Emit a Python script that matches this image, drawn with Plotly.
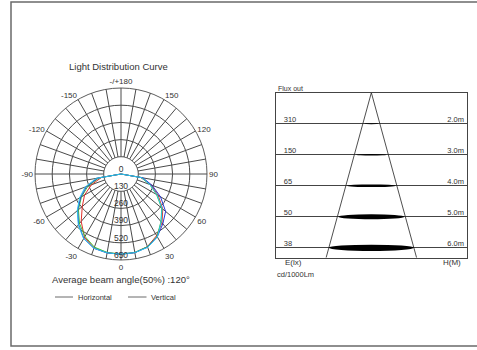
import plotly.graph_objects as go

# ---------------- data ----------------
angles = [-90, -80, -70, -60, -50, -40, -30, -20, -10, 0, 10, 20, 30, 40, 50, 60, 70, 80, 90]
cyan_cd = [0, 190, 288, 362, 432, 502, 565, 597, 605, 606, 603, 590, 550, 472, 405, 315, 232, 160, 0]
blue_cd = [0, 178, 278, 352, 428, 498, 562, 598, 606, 606, 604, 588, 548, 492, 440, 345, 250, 168, 0]
red_cd = [0, 150, 238, 318, 382, 468, 552, 594, 604, 606, 603, 584, 538, 482, 412, 325, 242, 152, 0]
green_cd = [0, 168, 265, 345, 420, 488, 545, 588, 602, 606, 602, 584, 545, 470, 402, 310, 232, 155, 0]
radial_ticks = [0, 130, 260, 390, 520, 650]
angle_ticks = list(range(0, 360, 10))
angle_labels = {0: "0", 30: "30", 60: "60", 90: "90", 120: "120", 150: "150", 180: "-/+180",
                210: "-150", 240: "-120", 270: "-90", 300: "-60", 330: "-30"}

heights = [2, 3, 4, 5, 6]
flux = [310, 150, 65, 50, 38]
spot_halfwidth = [0.82, 1.82, 2.88, 3.88, 5.0]
spot_thickness = [0.035, 0.05, 0.08, 0.16, 0.2]
cone_x = [-5.32, 0, 5.32]
cone_y = [6.32, 1, 6.32]

FONT = "Liberation Sans, Arial, sans-serif"
GRID = "#4a4a4a"
TXT = "#333333"

fig = go.Figure()

# white inner disk (spokes start at the first ring)
disk_theta = list(range(0, 370, 10))
fig.add_trace(go.Scatterpolar(r=[radial_ticks[1]] * len(disk_theta), theta=disk_theta,
                              mode="lines", fill="toself", fillcolor="white",
                              line=dict(color=GRID, width=0.7), hoverinfo="skip", showlegend=False))

for vals, col in [(red_cd, "#e2302a"), (green_cd, "#3cc43c"), (blue_cd, "#2a3ad2"), (cyan_cd, "#2ac8e8")]:
    fig.add_trace(go.Scatterpolar(r=vals, theta=angles, mode="lines",
                                  line=dict(color=col, width=1), showlegend=False, hoverinfo="skip"))

fig.add_trace(go.Scatterpolar(r=radial_ticks, theta=[0] * len(radial_ticks), mode="text",
                              text=[str(v) for v in radial_ticks], textposition="top center",
                              textfont=dict(family=FONT, size=8.5, color=TXT),
                              showlegend=False, hoverinfo="skip"))

# ---------------- right diagram ----------------
fig.add_trace(go.Scatter(x=cone_x, y=cone_y, mode="lines", line=dict(color="#222", width=0.8),
                         xaxis="x", yaxis="y", showlegend=False, hoverinfo="skip"))
fig.add_trace(go.Scatter(x=[-10.3] * len(heights), y=heights, mode="text",
                         text=[str(v) for v in flux], textposition="top right",
                         textfont=dict(family=FONT, size=7.5, color=TXT),
                         xaxis="x", yaxis="y", showlegend=False, hoverinfo="skip"))
fig.add_trace(go.Scatter(x=[10.9] * len(heights), y=heights, mode="text",
                         text=["%.1fm" % h for h in heights], textposition="top left",
                         textfont=dict(family=FONT, size=7.5, color=TXT),
                         xaxis="x", yaxis="y", showlegend=False, hoverinfo="skip"))

shapes = []
for h, hw, th in zip(heights, spot_halfwidth, spot_thickness):
    shapes.append(dict(type="circle", xref="x", yref="y", x0=-hw, x1=hw, y0=h - th / 2, y1=h + th / 2,
                       fillcolor="black", line=dict(width=0)))

W, H = 477, 350
def px(x):
    return x / W
def py(y):
    return 1 - y / H

# frame
shapes.append(dict(type="rect", xref="paper", yref="paper", x0=px(11), x1=1.02, y0=py(346), y1=py(2),
                   line=dict(color="#6a6a6a", width=1.5), fillcolor="rgba(0,0,0,0)"))
# legend line samples
shapes.append(dict(type="line", xref="paper", yref="paper", x0=px(55), x1=px(73), y0=py(297), y1=py(297),
                   line=dict(color="#444", width=0.8)))
shapes.append(dict(type="line", xref="paper", yref="paper", x0=px(128), x1=px(146.5), y0=py(297), y1=py(297),
                   line=dict(color="#444", width=0.8)))

ann = []
def note(text, x, y, size, xanchor="center"):
    ann.append(dict(text=text, x=px(x), y=py(y), xref="paper", yref="paper", showarrow=False,
                    xanchor=xanchor, yanchor="middle", font=dict(family=FONT, size=size, color=TXT)))

note("Light Distribution Curve", 118.5, 66, 9.5)
note("Average beam angle(50%) :120°", 121, 279, 9.5)
note("Horizontal", 76, 297, 7.5, "left")
note("Vertical", 149, 297, 7.5, "left")
note("Flux out", 275.5, 88, 7, "left")
note("E(lx)", 283, 262, 8, "left")
note("cd/1000Lm", 275, 274.5, 7.5, "left")
note("H(M)", 463, 262, 8, "right")

fig.update_layout(
    width=W, height=H, margin=dict(l=0, r=0, t=0, b=0),
    paper_bgcolor="white", plot_bgcolor="white",
    polar=dict(
        domain=dict(x=[px(35), px(207)], y=[py(260), py(88)]),
        bgcolor="white",
        angularaxis=dict(rotation=-90, direction="counterclockwise",
                         tickmode="array", tickvals=angle_ticks,
                         ticktext=[angle_labels.get(a, "") for a in angle_ticks],
                         ticks="", showgrid=True, gridcolor=GRID, gridwidth=0.7,
                         showline=True, linecolor=GRID, linewidth=0.9, layer="below traces",
                         tickfont=dict(family=FONT, size=8, color=TXT)),
        radialaxis=dict(range=[0, 650], tickmode="array", tickvals=radial_ticks[1:],
                        showticklabels=False, ticks="", showline=False, showgrid=True,
                        gridcolor=GRID, gridwidth=0.7, layer="below traces"),
    ),
    xaxis=dict(domain=[px(275.7), px(467)], range=[-11.25, 11.25], showgrid=False, zeroline=False,
               showticklabels=False, ticks="", showline=True, mirror=True, linecolor="#444", linewidth=0.8,
               fixedrange=True),
    yaxis=dict(domain=[py(257.7), py(92.7)], range=[6.32, 1], tickmode="array", tickvals=heights,
               showgrid=True, gridcolor="#444", gridwidth=0.8, zeroline=False, showticklabels=False,
               ticks="", showline=True, mirror=True, linecolor="#444", linewidth=0.8, fixedrange=True),
    shapes=shapes, annotations=ann, showlegend=False, hovermode=False,
)

fig.write_html("out.html", config={"displayModeBar": False},
               post_script="document.body.style.margin='0';document.body.style.overflow='hidden';")
